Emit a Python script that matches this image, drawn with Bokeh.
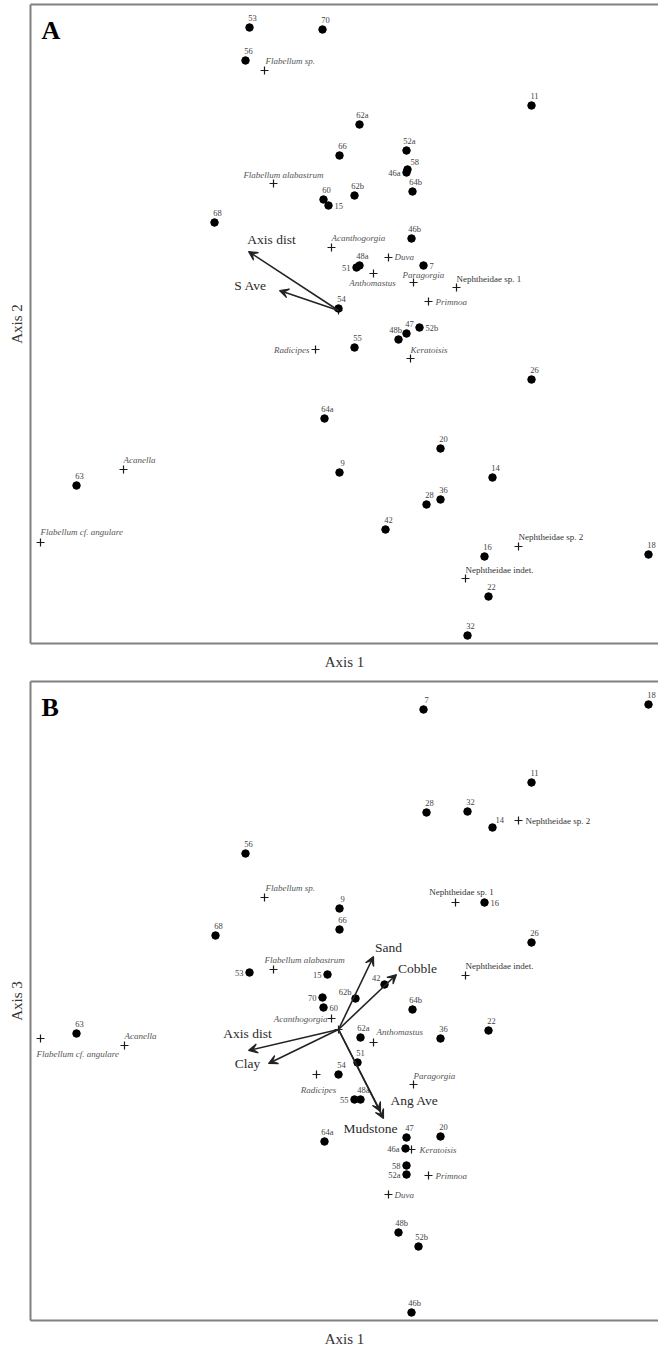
from bokeh.plotting import figure
from bokeh.layouts import column
from bokeh.models import (Range1d, FixedTicker, ColumnDataSource, Arrow, VeeHead, Label,
                          LinearAxis)
from bokeh.embed import file_html
from bokeh.resources import INLINE

# ---------------- Panel A data (Axis 1 vs Axis 2) ----------------
A_sites = ["53", "70", "56", "11", "62a", "66", "52a", "58", "46a", "64b", "60", "15",
           "62b", "68", "46b", "48a", "51", "7", "54", "47", "48b", "52b", "55", "26",
           "64a", "20", "9", "14", "63", "28", "36", "42", "16", "18", "22", "32"]
A_site_ax1 = [219, 292, 215, 501, 329, 309, 376, 377, 376, 382, 293, 298,
              324, 184, 381, 329, 326, 393, 308, 376, 368, 389, 324, 501,
              294, 410, 309, 462, 46, 396, 410, 355, 454, 618, 458, 437]
A_site_ax2 = [616, 614, 583, 538, 519, 488, 493, 474, 471, 452, 444, 438,
              448, 421, 405, 378, 376, 378, 335, 310, 304, 316, 296, 264,
              225, 195, 171, 166, 158, 139, 144, 114, 87, 89, 47, 8]

A_species = ["Flabellum sp.", "Flabellum alabastrum", "Acanthogorgia", "Duva",
             "Anthomastus", "Paragorgia", "Nephtheidae sp. 1", "Primnoa", "Radicipes",
             "Keratoisis", "Acanella", "Flabellum cf. angulare", "Nephtheidae sp. 2",
             "Nephtheidae indet."]
A_sp_ax1 = [234, 243, 301, 358, 343, 383, 426, 398, 285, 380, 93, 10, 488, 435]
A_sp_ax2 = [573, 460, 396, 386, 370, 361, 356, 342, 294, 285, 174, 101, 97, 65]

A_vectors = ["Axis dist", "S Ave"]
A_vec_origin = (308, 333)
A_vec_ax1 = [218, 249]
A_vec_ax2 = [392, 353]

# ---------------- Panel B data (Axis 1 vs Axis 3) ----------------
B_sites = ["7", "18", "11", "28", "32", "14", "56", "9", "16", "66", "68", "26",
           "53", "15", "42", "62b", "70", "60", "64b", "62a", "36", "22", "51", "54",
           "48a", "55", "64a", "47", "20", "46a", "58", "52a", "48b", "52b", "46b", "63"]
B_site_ax1 = [393, 618, 501, 396, 437, 462, 215, 309, 454, 309, 185, 501,
              219, 297, 354, 325, 292, 293, 382, 330, 410, 458, 327, 308,
              330, 324, 294, 376, 410, 375, 376, 376, 368, 388, 381, 46]
B_site_ax3 = [611, 616, 538, 508, 509, 493, 467, 412, 418, 391, 385, 378,
              348, 346, 336, 322, 323, 313, 311, 283, 282, 290, 258, 246,
              221, 221, 179, 183, 184, 172, 155, 146, 88, 74, 8, 287]

B_species = ["Flabellum sp.", "Flabellum alabastrum", "Nephtheidae sp. 2",
             "Nephtheidae sp. 1", "Nephtheidae indet.", "Acanthogorgia", "Anthomastus",
             "Radicipes", "Paragorgia", "Keratoisis", "Primnoa", "Duva",
             "Flabellum cf. angulare", "Acanella"]
B_sp_ax1 = [234, 243, 488, 425, 435, 301, 343, 286, 383, 381, 398, 358, 10, 94]
B_sp_ax3 = [423, 351, 500, 418, 345, 302, 278, 246, 236, 171, 145, 126, 282, 275]

B_vectors = ["Sand", "Cobble", "Axis dist", "Clay", "Ang Ave", "Mudstone"]
B_vec_origin = (308, 291)
B_vec_ax1 = [343, 366, 218, 238, 350, 353]
B_vec_ax3 = [364, 346, 270, 257, 209, 202]

# ---------------- label layout (screen offsets, not data) ----------------
CODES = {"n": (3, 10, "center"), "nl": (-3, 10, "center"), "ne": (3, 8, "left"),
         "e": (6, 0, "left"), "w": (-6, 0, "right"), "nw": (-4, 7, "right")}
A_site_pos = {"58": "ne", "46a": "w", "15": "e", "51": "w", "7": "e", "48b": "nl", "52b": "e"}
B_site_pos = {"14": "ne", "16": "e", "53": "w", "15": "w", "42": "nw", "62b": "nw",
              "70": "w", "60": "e", "55": "w", "46a": "w", "58": "w", "52a": "w"}
A_sp_pos = [(1, 10, "left"), (10, 9, "center"), (0, 10, "left"), (6, 1, "left"),
            (-1, -9, "center"), (-11, 8, "left"), (0, 9, "left"), (7, 0, "left"),
            (-6, 0, "right"), (0, 9, "left"), (0, 10, "left"), (0, 11, "left"),
            (0, 10, "left"), (0, 9, "left")]
B_sp_pos = [(1, 10, "left"), (-9, 10, "left"), (7, 0, "left"), (6, 11, "center"),
            (0, 10, "left"), (-4, 0, "right"), (3, 11, "left"), (2, -15, "center"),
            (0, 9, "left"), (8, 0, "left"), (7, 0, "left"), (6, 0, "left"),
            (-4, -15, "left"), (0, 10, "left")]
A_vec_lab = [(23, 12), (-29, 5)]
B_vec_lab = [(15, 9), (21, 6), (-1, 17), (-21, 0), (34, 11), (-13, -10)]

SERIF = "Liberation Serif"
FRAME = "#808080"


def style_axis(ax):
    ax.ticker = FixedTicker(ticks=[])
    ax.axis_line_color = FRAME
    ax.axis_line_width = 2
    ax.major_tick_line_color = None
    ax.minor_tick_line_color = None
    ax.major_tick_out = 0
    ax.major_tick_in = 0
    ax.minor_tick_out = 0
    ax.minor_tick_in = 0
    ax.major_label_standoff = 0
    ax.major_label_text_font_size = "0px"
    ax.axis_label_text_font = SERIF
    ax.axis_label_text_font_size = "15px"
    ax.axis_label_text_font_style = "normal"
    ax.axis_label_text_color = "#333333"


def make_panel(letter, ylabel, height, bottom, sites, sx, sy, spos,
               species, px, py, ppos, vecs, origin, vx, vy, vlab):
    p = figure(width=658, height=height, x_range=Range1d(0, 628), y_range=Range1d(0, 639),
               output_backend="svg", toolbar_location=None,
               min_border_left=30, min_border_right=0, min_border_top=4,
               min_border_bottom=bottom, background_fill_color="white",
               border_fill_color="white")
    p.grid.visible = False
    p.outline_line_color = None
    top_axis = LinearAxis(axis_label=None, axis_label_standoff=0)
    p.add_layout(top_axis, "above")
    for ax in p.axis:
        style_axis(ax)
    bottom_axis = p.below[0]
    left_axis = p.left[0]
    bottom_axis.axis_label = "Axis 1"
    bottom_axis.axis_label_standoff = 10
    left_axis.axis_label = ylabel
    left_axis.axis_label_standoff = 6
    top_axis.axis_label = None

    # vectors
    src_v = ColumnDataSource(dict(x0=[origin[0]] * len(vecs), y0=[origin[1]] * len(vecs),
                                  x1=vx, y1=vy))
    p.add_layout(Arrow(source=src_v, x_start="x0", y_start="y0", x_end="x1", y_end="y1",
                       line_color="#222222", line_width=1.6,
                       end=VeeHead(size=9, fill_color="#222222", line_color="#222222",
                                   line_width=1.2)))
    p.scatter([origin[0]], [origin[1]], marker="cross", size=8, line_color="#222222",
              line_width=1.2)
    p.text(x=vx, y=vy, text=vecs, x_offset=[d[0] for d in vlab], y_offset=[-d[1] for d in vlab],
           text_font=SERIF, text_font_size="13.5px", text_color="#2a2a2a",
           text_align="center", text_baseline="middle")

    # species
    styles = ["normal" if s.startswith("Nephtheidae") else "italic" for s in species]
    colors = ["#333333" if s.startswith("Nephtheidae") else "#555555" for s in species]
    src_s = ColumnDataSource(dict(x=px, y=py, t=species, dx=[d[0] for d in ppos],
                                  dy=[-d[1] for d in ppos], al=[d[2] for d in ppos],
                                  st=styles, c=colors))
    p.scatter("x", "y", source=src_s, marker="cross", size=8, line_color="#1a1a1a",
              line_width=1.2)
    p.text("x", "y", text="t", source=src_s, x_offset="dx", y_offset="dy",
           text_align="al", text_font_style="st", text_color="c",
           text_font=SERIF, text_font_size="9px", text_baseline="middle")

    # sites
    codes = [CODES[spos.get(s, "n")] for s in sites]
    src_p = ColumnDataSource(dict(x=sx, y=sy, t=sites, dx=[c[0] for c in codes],
                                  dy=[-c[1] for c in codes], al=[c[2] for c in codes]))
    p.scatter("x", "y", source=src_p, marker="circle", size=7.5, fill_color="black",
              line_color="black")
    p.text("x", "y", text="t", source=src_p, x_offset="dx", y_offset="dy",
           text_align="al", text_font=SERIF, text_font_size="8.5px",
           text_color="#444444", text_baseline="middle")

    p.add_layout(Label(x=11, y=613, text=letter, text_font=SERIF, text_font_size="26px",
                       text_font_style="bold", text_color="black",
                       text_baseline="middle", text_align="left"))
    return p


pA = make_panel("A", "Axis 2", 677, 34, A_sites, A_site_ax1, A_site_ax2, A_site_pos,
                A_species, A_sp_ax1, A_sp_ax2, A_sp_pos, A_vectors, A_vec_origin,
                A_vec_ax1, A_vec_ax2, A_vec_lab)
pB = make_panel("B", "Axis 3", 675, 32, B_sites, B_site_ax1, B_site_ax3, B_site_pos,
                B_species, B_sp_ax1, B_sp_ax3, B_sp_pos, B_vectors, B_vec_origin,
                B_vec_ax1, B_vec_ax3, B_vec_lab)

layout = column(pA, pB, spacing=0)
open("out.html", "w").write(file_html(layout, INLINE))
